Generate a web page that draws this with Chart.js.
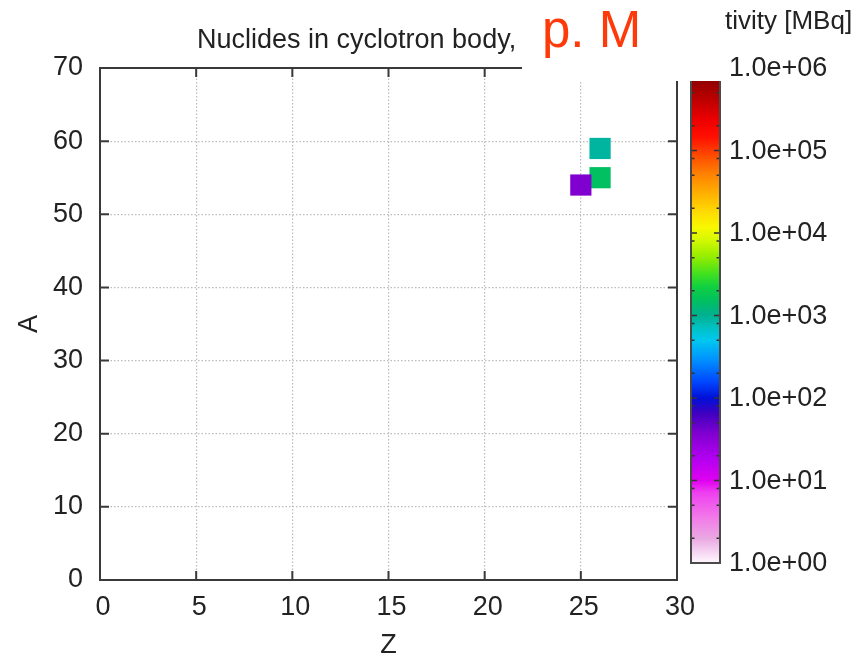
<!DOCTYPE html>
<html>
<head>
<meta charset="utf-8">
<script src="https://cdn.jsdelivr.net/npm/chart.js@4/dist/chart.umd.min.js"></script>
<style>
  html, body { margin: 0; padding: 0; background: #ffffff; }
  #wrap { width: 867px; height: 662px; position: relative; }
</style>
</head>
<body>
<div id="wrap"><canvas id="c" width="867" height="662"></canvas></div>
<script>
// Nuclides found in the cyclotron body: charge number Z, mass number A, activity in MBq
const nuclides = ['Fe-59', 'Fe-55', 'Mn-54'];
const zValues = [26, 26, 25];
const aValues = [59, 55, 54];
const activityMBq = [900, 1500, 37];

// Axis ticks
const zTicks = [0, 5, 10, 15, 20, 25, 30];
const aTicks = [0, 10, 20, 30, 40, 50, 60, 70];

// Colour bar (log10 of activity, 1 MBq .. 1e6 MBq)
const cbDecades = [0, 1, 2, 3, 4, 5, 6];
const cbTickLabels = ['1.0e+00', '1.0e+01', '1.0e+02', '1.0e+03', '1.0e+04', '1.0e+05', '1.0e+06'];
const cbMinorFactors = [2, 5, 8];

const plotTitle = 'Nuclides in cyclotron body,';
const cbTitle = 'Activity [MBq]';
const stampText = 'p. M';

// Palette: [decade position, colour]
const paletteStops = [
  [0.00, '#fff8ff'], [0.30, '#eaa8e2'], [0.55, '#f27ae8'], [0.85, '#ee40f0'],
  [1.00, '#e000f0'], [1.28, '#b000f0'], [1.57, '#8000d0'], [1.81, '#4000c0'],
  [2.00, '#0010d8'], [2.20, '#0048ff'], [2.46, '#0090ff'], [2.70, '#00c8f0'],
  [2.86, '#00c0c0'], [3.00, '#00b090'], [3.18, '#00c060'], [3.35, '#10d040'],
  [3.50, '#40e020'], [3.70, '#90ec00'], [3.90, '#d0f800'], [4.07, '#f8f800'],
  [4.27, '#ffd800'], [4.48, '#ffb000'], [4.72, '#ff8000'], [4.92, '#ff5000'],
  [5.16, '#ff1000'], [5.36, '#f00000'], [5.60, '#c00000'], [5.85, '#900000'],
  [6.00, '#700000']
];
const CB_MIN = 0, CB_MAX = 6;

function hexToRgb(h) {
  return [parseInt(h.slice(1, 3), 16), parseInt(h.slice(3, 5), 16), parseInt(h.slice(5, 7), 16)];
}
function paletteColor(logv) {
  const d = Math.max(CB_MIN, Math.min(CB_MAX, logv));
  for (let i = 1; i < paletteStops.length; i++) {
    const [p1, c1] = paletteStops[i - 1];
    const [p2, c2] = paletteStops[i];
    if (d <= p2) {
      const t = (d - p1) / (p2 - p1);
      const a = hexToRgb(c1), b = hexToRgb(c2);
      const m = a.map((v, k) => Math.round(v + (b[k] - v) * t));
      return `rgb(${m[0]},${m[1]},${m[2]})`;
    }
  }
  return paletteStops[paletteStops.length - 1][1];
}

const FONT = '"Liberation Sans", Arial, sans-serif';
const FONT_SIZE = 27;
const TEXT_COLOR = '#222222';
const FRAME_COLOR = '#3a3a3a';

// Colour bar box on the canvas
const cbBox = { left: 691, right: 720, top: 68, bottom: 563 };
function cbY(logv) {
  return cbBox.bottom - (logv - CB_MIN) / (CB_MAX - CB_MIN) * (cbBox.bottom - cbBox.top);
}

const points = zValues.map((z, i) => ({ x: z, y: aValues[i], name: nuclides[i], act: activityMBq[i] }));
const pointColors = activityMBq.map(v => paletteColor(Math.log10(v)));

// Frame with inward ticks on all four sides
const framePlugin = {
  id: 'frame',
  beforeDatasetsDraw(chart) {
    const { ctx, chartArea: ca, scales } = chart;
    ctx.save();
    ctx.strokeStyle = FRAME_COLOR;
    ctx.lineWidth = 2;
    ctx.strokeRect(ca.left, ca.top, ca.right - ca.left, ca.bottom - ca.top);
    const tl = 9;
    ctx.beginPath();
    zTicks.forEach(v => {
      const x = scales.x.getPixelForValue(v);
      ctx.moveTo(x, ca.bottom); ctx.lineTo(x, ca.bottom - tl);
      ctx.moveTo(x, ca.top); ctx.lineTo(x, ca.top + tl);
    });
    aTicks.forEach(v => {
      const y = scales.y.getPixelForValue(v);
      ctx.moveTo(ca.left, y); ctx.lineTo(ca.left + tl, y);
      ctx.moveTo(ca.right, y); ctx.lineTo(ca.right - tl, y);
    });
    ctx.stroke();
    ctx.restore();
  }
};

// Title, colour bar and stamp
const decorPlugin = {
  id: 'decor',
  afterDraw(chart) {
    const ctx = chart.ctx;
    ctx.save();

    // title
    ctx.fillStyle = TEXT_COLOR;
    ctx.font = `${FONT_SIZE}px ${FONT}`;
    ctx.textAlign = 'left';
    ctx.textBaseline = 'alphabetic';
    ctx.fillText(plotTitle, 197, 48);

    // colour bar gradient
    const grad = ctx.createLinearGradient(0, cbBox.bottom, 0, cbBox.top);
    paletteStops.forEach(([p, c]) => grad.addColorStop((p - CB_MIN) / (CB_MAX - CB_MIN), c));
    ctx.fillStyle = grad;
    ctx.fillRect(cbBox.left, cbBox.top, cbBox.right - cbBox.left, cbBox.bottom - cbBox.top);

    // colour bar ticks
    ctx.strokeStyle = '#333333';
    ctx.lineWidth = 1.5;
    ctx.beginPath();
    cbDecades.forEach((d, i) => {
      const y = cbY(d);
      ctx.moveTo(cbBox.left, y); ctx.lineTo(cbBox.left + 6, y);
      ctx.moveTo(cbBox.right, y); ctx.lineTo(cbBox.right - 6, y);
      if (i < cbDecades.length - 1) {
        cbMinorFactors.forEach(f => {
          const ym = cbY(d + Math.log10(f));
          ctx.moveTo(cbBox.left, ym); ctx.lineTo(cbBox.left + 3.5, ym);
          ctx.moveTo(cbBox.right, ym); ctx.lineTo(cbBox.right - 3.5, ym);
        });
      }
    });
    ctx.stroke();

    ctx.strokeStyle = '#4a4a4a';
    ctx.lineWidth = 2;
    ctx.strokeRect(cbBox.left, cbBox.top, cbBox.right - cbBox.left, cbBox.bottom - cbBox.top);

    // colour bar labels
    ctx.fillStyle = TEXT_COLOR;
    ctx.font = `${FONT_SIZE}px ${FONT}`;
    ctx.textAlign = 'left';
    ctx.textBaseline = 'middle';
    cbDecades.forEach((d, i) => ctx.fillText(cbTickLabels[i], 729, cbY(d) + 1));

    // colour bar title (its first letters sit under the stamp patch)
    ctx.font = `26px ${FONT}`;
    ctx.textBaseline = 'alphabetic';
    const lead = ctx.measureText(cbTitle.slice(0, 2)).width;
    ctx.fillText(cbTitle, 725 - lead, 29);

    // stamp patch over the upper right corner
    ctx.fillStyle = '#ffffff';
    ctx.fillRect(522, 0, 202, 81);
    ctx.fillStyle = '#ff3a0a';
    ctx.font = `51px ${FONT}`;
    ctx.textAlign = 'left';
    ctx.fillText(stampText, 542, 47);

    ctx.restore();
  }
};

new Chart(document.getElementById('c'), {
  type: 'scatter',
  data: {
    datasets: [{
      label: 'Activity [MBq]',
      data: points,
      pointStyle: 'rect',
      pointRadius: 15,
      pointBackgroundColor: pointColors,
      pointBorderColor: pointColors,
      pointBorderWidth: 0
    }]
  },
  options: {
    responsive: false,
    devicePixelRatio: 1,
    animation: false,
    events: [],
    layout: { padding: { top: 68, right: 190, left: 0, bottom: 0 } },
    plugins: { legend: { display: false }, tooltip: { enabled: false }, title: { display: false } },
    scales: {
      x: {
        type: 'linear', min: 0, max: 30,
        afterFit(s) { s.height = 82; },
        afterBuildTicks(s) { s.ticks = zTicks.map(v => ({ value: v })); },
        grid: { color: '#bcbcbc', lineWidth: 1.2, drawTicks: false },
        border: { display: false, dash: [1.5, 2] },
        ticks: { color: TEXT_COLOR, font: { family: FONT, size: FONT_SIZE }, padding: 11, labelOffset: 3, maxRotation: 0 },
        title: { display: true, text: 'Z', color: TEXT_COLOR, font: { family: FONT, size: FONT_SIZE }, padding: { top: 0, bottom: 0 } }
      },
      y: {
        type: 'linear', min: 0, max: 70,
        afterFit(s) { s.width = 100; },
        afterBuildTicks(s) { s.ticks = aTicks.map(v => ({ value: v })); },
        grid: { color: '#bcbcbc', lineWidth: 1.2, drawTicks: false },
        border: { display: false, dash: [1.5, 2] },
        ticks: { color: TEXT_COLOR, font: { family: FONT, size: FONT_SIZE }, padding: 17 },
        title: { display: true, text: 'A', color: TEXT_COLOR, font: { family: FONT, size: FONT_SIZE }, padding: { top: 13, bottom: 0 } }
      }
    }
  },
  plugins: [framePlugin, decorPlugin]
});
</script>
</body>
</html>
